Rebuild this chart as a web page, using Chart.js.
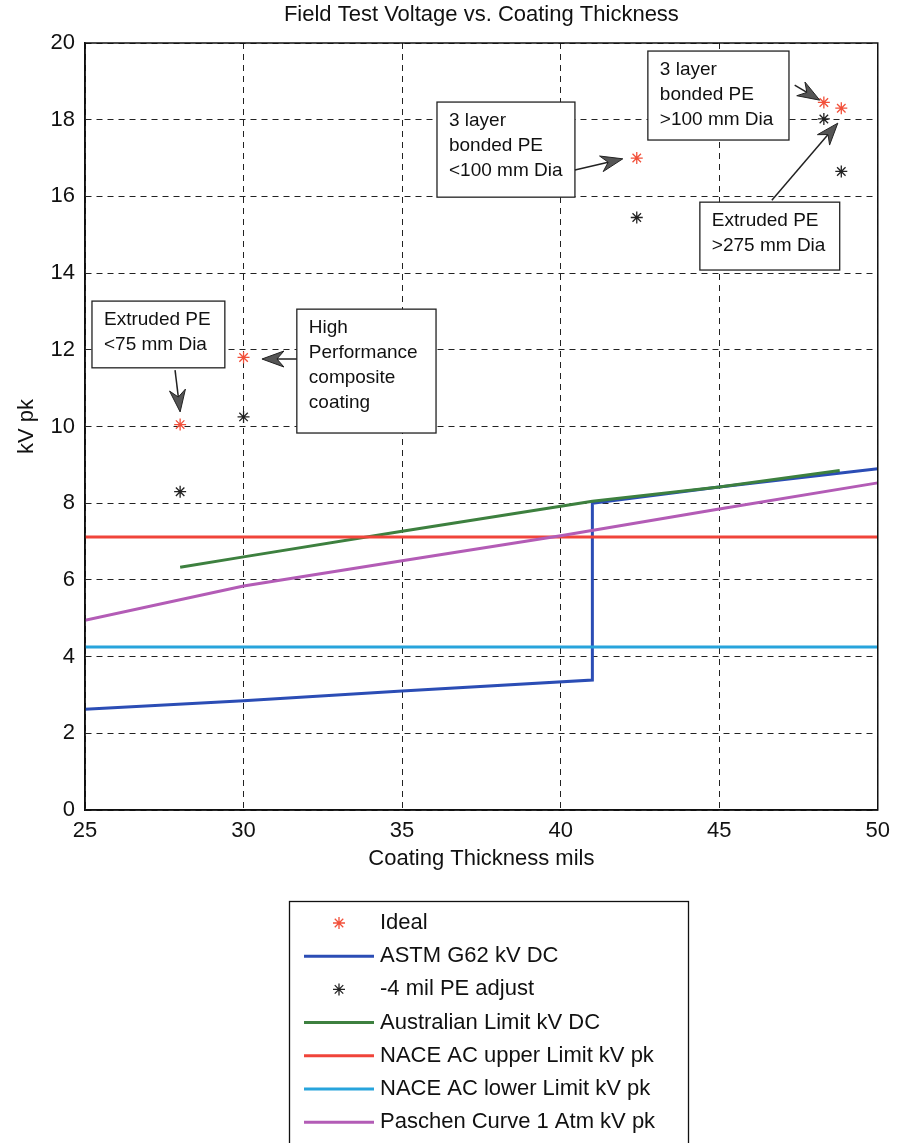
<!DOCTYPE html>
<html>
<head>
<meta charset="utf-8">
<title>Field Test Voltage vs. Coating Thickness</title>
<script src="https://cdn.jsdelivr.net/npm/chart.js@4.4.1/dist/chart.umd.min.js"></script>
<style>
  html, body { margin: 0; padding: 0; background: #fff; }
  #wrap { width: 898px; height: 1143px; }
</style>
</head>
<body>
<div id="wrap"><canvas id="fieldChart" width="898" height="1143"></canvas></div>
<script>
const FONT = "'Liberation Sans', Arial, Helvetica, sans-serif";

// thickness in mils, voltage in kV
const idealX = [28, 30, 42.4, 48.3, 48.85];
const idealY = [10.05, 11.8, 17.0, 18.45, 18.3];
const adjustX = [28, 30, 42.4, 48.3, 48.85];
const adjustY = [8.3, 10.25, 15.45, 18.02, 16.65];
const astmX = [25, 30, 35, 41, 41, 45, 50];
const astmY = [2.63, 2.85, 3.1, 3.39, 8.0, 8.42, 8.9];
const ausX = [28, 30, 35, 41, 45, 48.8];
const ausY = [6.33, 6.6, 7.27, 8.05, 8.42, 8.85];
const naceUpperX = [25, 50];
const naceUpperY = [7.12, 7.12];
const naceLowerX = [25, 50];
const naceLowerY = [4.25, 4.25];
const paschenX = [25, 30, 35, 40, 45, 50];
const paschenY = [4.95, 5.84, 6.5, 7.15, 7.85, 8.53];

const xTicks = [25, 30, 35, 40, 45, 50];
const yTicks = [0, 2, 4, 6, 8, 10, 12, 14, 16, 18, 20];

const pts = (xs, ys) => xs.map((x, i) => ({ x, y: ys[i] }));

// callout boxes: corners and arrow ends in axis units
const notes = [
  { lines: ["Extruded PE", "<75 mm Dia"], box: [25.22, 13.27, 29.41, 11.53], tail: [27.84, 11.47], tip: [28.0, 10.38] },
  { lines: ["High", "Performance", "composite", "coating"], box: [31.68, 13.06, 36.07, 9.83], tail: [31.68, 11.76], tip: [30.58, 11.76] },
  { lines: ["3 layer", "bonded PE", "<100 mm Dia"], box: [36.1, 18.46, 40.45, 15.98], tail: [40.45, 16.69], tip: [41.96, 16.98] },
  { lines: ["3 layer", "bonded PE", ">100 mm Dia"], box: [42.75, 19.79, 47.2, 17.47], tail: [47.38, 18.9], tip: [48.17, 18.51] },
  { lines: ["Extruded PE", ">275 mm Dia"], box: [44.39, 15.85, 48.8, 14.08], tail: [46.66, 15.9], tip: [48.74, 17.91] }
];

function arrow(ctx, x1, y1, x2, y2) {
  const a = Math.atan2(y2 - y1, x2 - x1);
  const c = Math.cos(a), s = Math.sin(a);
  const len = 22, half = 8, notch = 15;
  ctx.beginPath();
  ctx.moveTo(x1, y1);
  ctx.lineTo(x2 - c * notch, y2 - s * notch);
  ctx.stroke();
  ctx.beginPath();
  ctx.moveTo(x2, y2);
  ctx.lineTo(x2 - c * len + s * half, y2 - s * len - c * half);
  ctx.lineTo(x2 - c * notch, y2 - s * notch);
  ctx.lineTo(x2 - c * len - s * half, y2 - s * len + c * half);
  ctx.closePath();
  ctx.fill();
  ctx.lineWidth = 1;
  ctx.stroke();
}

const extras = {
  id: 'extras',
  afterDatasetsDraw(chart) {
    const { ctx, chartArea: ca, scales: { x, y } } = chart;
    ctx.save();
    // axes box
    ctx.strokeStyle = '#111';
    ctx.lineWidth = 1.5;
    ctx.strokeRect(ca.left, ca.top, ca.right - ca.left, ca.bottom - ca.top);

    // callouts
    ctx.font = '19px ' + FONT;
    ctx.textBaseline = 'middle';
    notes.forEach(n => {
      const l = x.getPixelForValue(n.box[0]), t = y.getPixelForValue(n.box[1]);
      const r = x.getPixelForValue(n.box[2]), b = y.getPixelForValue(n.box[3]);
      ctx.fillStyle = '#fff';
      ctx.fillRect(l, t, r - l, b - t);
      ctx.strokeStyle = '#222';
      ctx.lineWidth = 1.3;
      ctx.strokeRect(l, t, r - l, b - t);
      ctx.fillStyle = '#111';
      n.lines.forEach((s, i) => ctx.fillText(s, l + 12, t + 19 + i * 25));
      ctx.strokeStyle = '#222';
      ctx.fillStyle = '#555';
      ctx.lineWidth = 1.5;
      arrow(ctx, x.getPixelForValue(n.tail[0]), y.getPixelForValue(n.tail[1]),
        x.getPixelForValue(n.tip[0]), y.getPixelForValue(n.tip[1]));
    });
    ctx.restore();
  },
  afterDraw(chart) {
    const { ctx, chartArea: ca } = chart;
    ctx.save();
    ctx.fillStyle = '#111';
    ctx.font = '22px ' + FONT;
    ctx.textAlign = 'center';
    ctx.textBaseline = 'middle';
    ctx.fillText('Field Test Voltage vs. Coating Thickness', (ca.left + ca.right) / 2, 15);

    // legend
    ctx.strokeStyle = '#111';
    ctx.lineWidth = 1.3;
    ctx.strokeRect(289.5, 901.5, 399, 245);
    ctx.textAlign = 'left';
    chart.data.datasets.forEach((ds, i) => {
      const yy = 923 + i * 33.2;
      ctx.strokeStyle = ds.borderColor;
      ctx.fillStyle = ds.borderColor;
      if (ds.showLine) {
        ctx.lineWidth = 3;
        ctx.beginPath();
        ctx.moveTo(304, yy);
        ctx.lineTo(374, yy);
        ctx.stroke();
      } else {
        ctx.lineWidth = 1.3;
        Chart.helpers.drawPoint(ctx, { pointStyle: 'star', radius: 6, borderWidth: 1.3, rotation: 0 }, 339, yy);
      }
      ctx.fillStyle = '#111';
      ctx.fillText(ds.label, 380, yy);
    });
    ctx.restore();
  }
};

const star = color => ({
  showLine: false,
  borderColor: color,
  backgroundColor: color,
  pointStyle: 'star',
  pointRadius: 6,
  pointBorderWidth: 1.3
});

const line = color => ({
  showLine: true,
  borderColor: color,
  backgroundColor: color,
  borderWidth: 3,
  pointRadius: 0,
  tension: 0,
  fill: false
});

const axisFont = { family: FONT, size: 22 };

new Chart(document.getElementById('fieldChart'), {
  type: 'scatter',
  data: {
    datasets: [
      { label: 'Ideal', data: pts(idealX, idealY), ...star('#f2503a'), order: 10 },
      { label: 'ASTM G62 kV DC', data: pts(astmX, astmY), ...line('#2b4db5'), order: 9 },
      { label: '-4 mil PE adjust', data: pts(adjustX, adjustY), ...star('#222222'), order: 8 },
      { label: 'Australian Limit kV DC', data: pts(ausX, ausY), ...line('#3d803f'), order: 7 },
      { label: 'NACE AC upper Limit kV pk', data: pts(naceUpperX, naceUpperY), ...line('#f0443a'), order: 6 },
      { label: 'NACE AC lower Limit kV pk', data: pts(naceLowerX, naceLowerY), ...line('#27a4dc'), order: 5 },
      { label: 'Paschen Curve 1 Atm kV pk', data: pts(paschenX, paschenY), ...line('#b35cb6'), order: 4 }
    ]
  },
  options: {
    responsive: false,
    animation: false,
    layout: { padding: { top: 43, right: 20, bottom: 269, left: 0 } },
    plugins: {
      legend: { display: false },
      title: { display: false },
      tooltip: { enabled: false }
    },
    scales: {
      x: {
        type: 'linear',
        min: 25,
        max: 50,
        afterBuildTicks: s => { s.ticks = xTicks.map(v => ({ value: v })); },
        afterFit: s => { s.height = 64; },
        grid: { color: '#222', lineWidth: 1, drawTicks: false },
        border: { display: true, color: '#111', width: 1.5, dash: [6, 5] },
        ticks: { padding: 8, color: '#111', font: axisFont, maxRotation: 0 },
        title: { display: true, text: 'Coating Thickness mils', color: '#111', font: axisFont, padding: { top: 0, bottom: 2 } }
      },
      y: {
        type: 'linear',
        min: 0,
        max: 20,
        afterBuildTicks: s => { s.ticks = yTicks.map(v => ({ value: v })); },
        afterFit: s => { s.width = 85; },
        grid: { color: '#222', lineWidth: 1, drawTicks: false },
        border: { display: true, color: '#111', width: 1.5, dash: [6, 5] },
        ticks: { padding: 10, color: '#111', font: axisFont },
        title: { display: true, text: 'kV pk', color: '#111', font: axisFont, padding: { top: 14, bottom: 0 } }
      }
    }
  },
  plugins: [extras]
});
</script>
</body>
</html>
